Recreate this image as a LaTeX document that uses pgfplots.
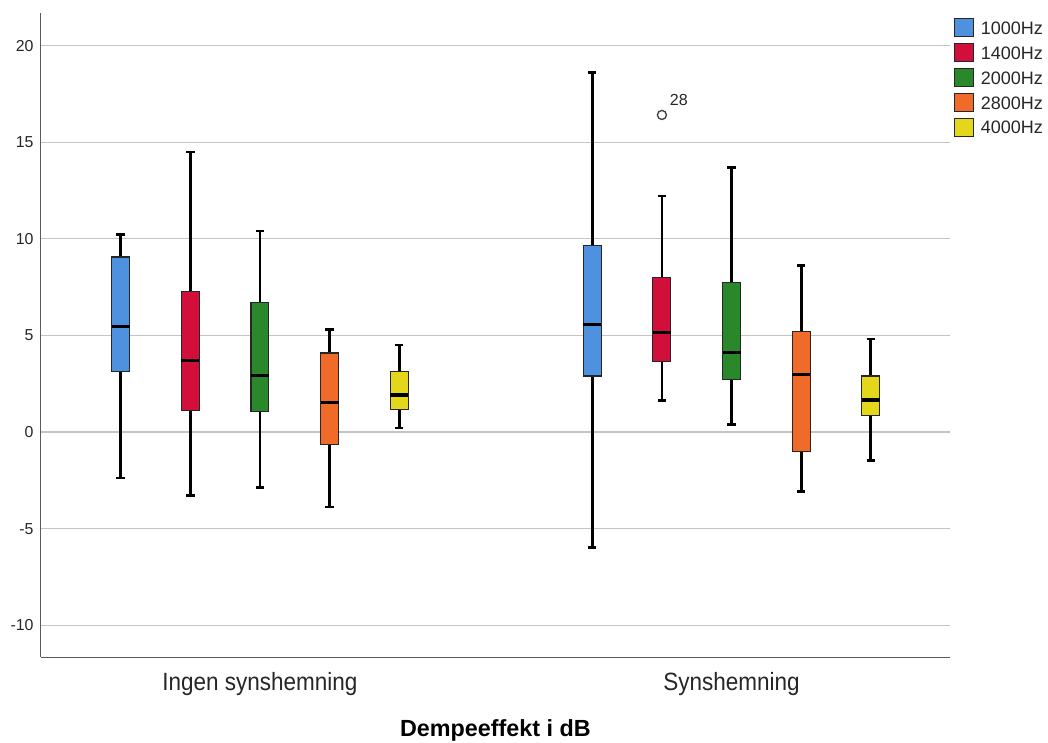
\documentclass[border=0pt]{standalone}
\usepackage{fontspec}
\setmainfont{Liberation Sans}
\newfontfamily\narrowfont[FakeStretch=0.9]{Liberation Sans}
\usepackage{pgfplots}
\pgfplotsset{compat=1.18}
\usepgfplotslibrary{statistics}
\definecolor{c1}{RGB}{78,145,222}
\definecolor{c2}{RGB}{210,14,58}
\definecolor{c3}{RGB}{42,136,42}
\definecolor{c4}{RGB}{240,106,42}
\definecolor{c5}{RGB}{228,214,26}
\definecolor{gridgray}{RGB}{196,196,196}
\definecolor{axisgray}{RGB}{90,90,90}
\pgfplotsset{
  boxplot/draw direction=y,
  boxplot/every median/.style={line width=2.6pt, draw=black},
  boxplot/every whisker/.style={line width=2.1pt, draw=black},
  mybox/.style={forget plot, draw=black!85, line width=0.8pt, fill=#1},
  myleg/.style={legend image code/.code={\draw[fill=#1, draw=black!85, line width=0.7pt] (0pt,-6.75pt) rectangle (14pt,6.75pt);}},
}
\begin{document}
\begin{tikzpicture}
\path[use as bounding box] (0,0) rectangle (786pt,556.5pt);
\begin{axis}[
  at={(30.5pt,63.5pt)}, anchor=south west,
  scale only axis, width=682pt, height=483pt,
  xmin=-0.1486, xmax=12.907, ymin=-11.66, ymax=21.67,
  axis lines*=left,
  axis line style={-, draw=axisgray, line width=1.1pt},
  xtick={3,9.771}, xticklabels={Ingen synshemning, Synshemning},
  ytick={-10,-5,0,5,10,15,20}, yticklabels={-10,-5,0,5,10,15,20},
  major tick length=0pt,
  ymajorgrids, grid style={line width=1pt, draw=gridgray},
  xticklabel style={font=\narrowfont\fontsize{18.75pt}{22pt}\selectfont, anchor=base, yshift=-24.5pt, text=black!85},
  yticklabel style={font=\fontsize{11.9pt}{14pt}\selectfont, anchor=east, xshift=-1.8pt, text=black!85},
  xlabel={Dempeeffekt i dB},
  xlabel style={font=\bfseries\fontsize{17.5pt}{21pt}\selectfont, at={(axis description cs:0.5,0)}, anchor=base, yshift=-59.55pt},
  legend cell align=left,
  legend style={at={(rel axis cs:1,1)}, anchor=north west, xshift=3pt, yshift=-3.75pt,
    draw=none, fill=none, inner sep=0pt, outer sep=0pt, row sep=4.5pt,
    font=\fontsize{13.5pt}{16pt}\selectfont, text=black!85,
    nodes={inner sep=0pt, text height=11.6pt, text depth=1.9pt},
    /tikz/every odd column/.append style={column sep=5.5pt}},
  clip=false,
]
% Ingen synshemning
\addplot[mybox=c1, boxplot prepared={draw position=1, lower whisker=-2.38, lower quartile=3.12, median=5.45, upper quartile=9.06, upper whisker=10.21, box extend=0.258, whisker extend=0.12}] coordinates {};
\addplot[mybox=c2, boxplot prepared={draw position=2, lower whisker=-3.30, lower quartile=1.10, median=3.71, upper quartile=7.26, upper whisker=14.49, box extend=0.258, whisker extend=0.12}] coordinates {};
\addplot[mybox=c3, boxplot prepared={draw position=3, lower whisker=-2.88, lower quartile=1.07, median=2.92, upper quartile=6.71, upper whisker=10.40, box extend=0.258, whisker extend=0.12}] coordinates {};
\addplot[mybox=c4, boxplot prepared={draw position=4, lower whisker=-3.88, lower quartile=-0.66, median=1.52, upper quartile=4.09, upper whisker=5.30, box extend=0.258, whisker extend=0.12}] coordinates {};
\addplot[mybox=c5, boxplot prepared={draw position=5, lower whisker=0.21, lower quartile=1.17, median=1.92, upper quartile=3.12, upper whisker=4.50, box extend=0.258, whisker extend=0.12}] coordinates {};
% Synshemning
\addplot[mybox=c1, boxplot prepared={draw position=7.771, lower whisker=-5.99, lower quartile=2.90, median=5.57, upper quartile=9.64, upper whisker=18.60, box extend=0.258, whisker extend=0.12}] coordinates {};
\addplot[mybox=c2, boxplot prepared={draw position=8.771, lower whisker=1.62, lower quartile=3.66, median=5.16, upper quartile=7.99, upper whisker=12.22, box extend=0.258, whisker extend=0.12}] coordinates {};
\addplot[mybox=c3, boxplot prepared={draw position=9.771, lower whisker=0.41, lower quartile=2.74, median=4.13, upper quartile=7.76, upper whisker=13.70, box extend=0.258, whisker extend=0.12}] coordinates {};
\addplot[mybox=c4, boxplot prepared={draw position=10.771, lower whisker=-3.09, lower quartile=-1.02, median=2.97, upper quartile=5.19, upper whisker=8.61, box extend=0.258, whisker extend=0.12}] coordinates {};
\addplot[mybox=c5, boxplot prepared={draw position=11.771, lower whisker=-1.49, lower quartile=0.84, median=1.66, upper quartile=2.90, upper whisker=4.81, box extend=0.258, whisker extend=0.12}] coordinates {};
% outlier
\addplot[forget plot, only marks, mark=o, mark size=3.4pt, mark options={draw=black!75, line width=1pt},
  point meta=explicit symbolic, nodes near coords,
  every node near coord/.append style={anchor=center, xshift=12.7pt, yshift=11.6pt, font=\fontsize{12pt}{14pt}\selectfont, text=black!85}]
  coordinates {(8.771,16.41) [28]};
% legend
\addlegendimage{myleg=c1}\addlegendentry{1000Hz}
\addlegendimage{myleg=c2}\addlegendentry{1400Hz}
\addlegendimage{myleg=c3}\addlegendentry{2000Hz}
\addlegendimage{myleg=c4}\addlegendentry{2800Hz}
\addlegendimage{myleg=c5}\addlegendentry{4000Hz}
\end{axis}
\end{tikzpicture}
\end{document}
